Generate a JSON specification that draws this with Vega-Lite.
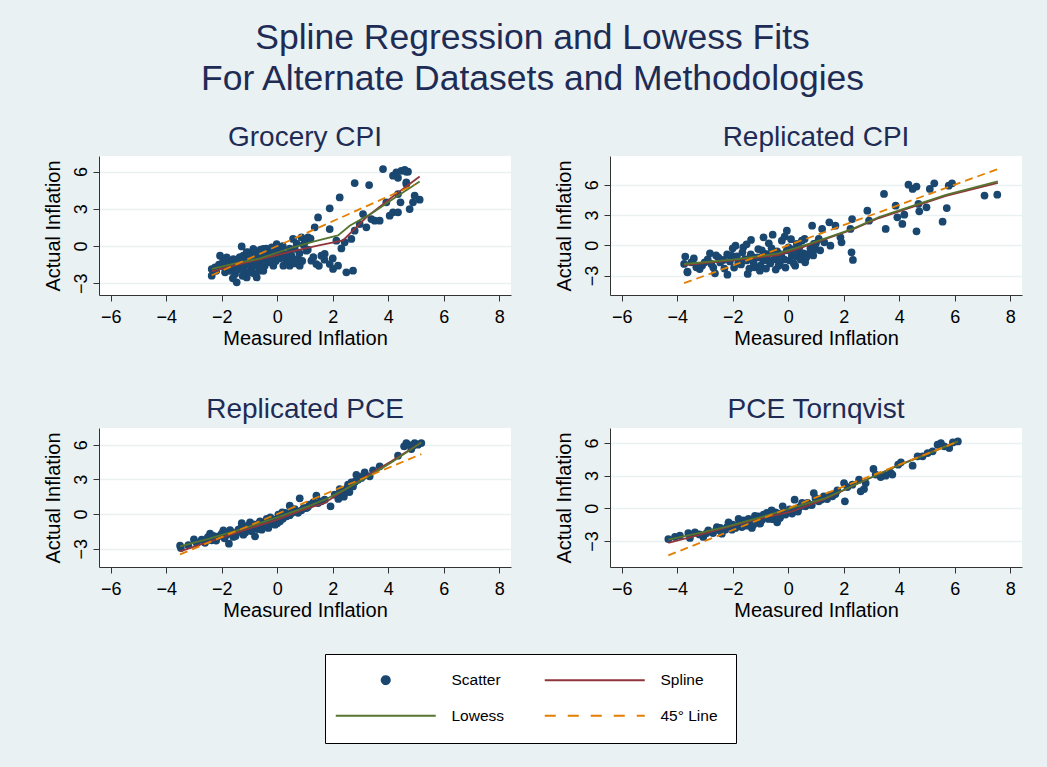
{
"$schema":"https://vega.github.io/schema/vega-lite/v6.json",
"background":"#eaf1f3",
"padding":{"left":42,"top":21,"right":25,"bottom":24},
"title":{"text":["Spline Regression and Lowess Fits","For Alternate Datasets and Methodologies"],"fontSize":35.5,"lineHeight":40.5,"color":"#1e2c55","font":"Liberation Sans","fontWeight":"normal","anchor":"middle","offset":27},
"data":{"values":[
{"p":"a","s":"Scatter","x":-2.36,"y":-1.86},{"p":"a","s":"Scatter","x":-2.36,"y":-2.39},{"p":"a","s":"Scatter","x":-2.24,"y":-1.72},{"p":"a","s":"Scatter","x":-2.06,"y":-0.78},{"p":"a","s":"Scatter","x":-2.0,"y":-1.59},{"p":"a","s":"Scatter","x":-1.82,"y":-0.91},{"p":"a","s":"Scatter","x":-1.88,"y":-2.12},{"p":"a","s":"Scatter","x":-1.7,"y":-1.32},{"p":"a","s":"Scatter","x":-1.64,"y":-1.85},{"p":"a","s":"Scatter","x":-1.58,"y":-1.05},{"p":"a","s":"Scatter","x":-1.52,"y":-2.26},{"p":"a","s":"Scatter","x":-1.46,"y":-2.93},{"p":"a","s":"Scatter","x":-1.34,"y":-1.59},{"p":"a","s":"Scatter","x":-1.28,"y":-0.03},{"p":"a","s":"Scatter","x":-1.22,"y":-0.78},{"p":"a","s":"Scatter","x":-1.16,"y":-2.12},{"p":"a","s":"Scatter","x":-1.1,"y":-2.53},{"p":"a","s":"Scatter","x":-1.04,"y":-0.51},{"p":"a","s":"Scatter","x":-0.98,"y":-1.32},{"p":"a","s":"Scatter","x":-0.92,"y":-1.85},{"p":"a","s":"Scatter","x":-0.86,"y":-0.24},{"p":"a","s":"Scatter","x":-0.8,"y":-1.05},{"p":"a","s":"Scatter","x":-0.74,"y":-2.53},{"p":"a","s":"Scatter","x":-0.68,"y":-1.59},{"p":"a","s":"Scatter","x":-0.62,"y":-0.78},{"p":"a","s":"Scatter","x":-0.56,"y":-1.85},{"p":"a","s":"Scatter","x":-0.5,"y":-0.24},{"p":"a","s":"Scatter","x":-0.44,"y":-1.32},{"p":"a","s":"Scatter","x":-0.32,"y":-0.51},{"p":"a","s":"Scatter","x":-0.2,"y":-1.05},{"p":"a","s":"Scatter","x":-0.14,"y":-1.59},{"p":"a","s":"Scatter","x":-0.02,"y":0.16},{"p":"a","s":"Scatter","x":0.04,"y":-0.78},{"p":"a","s":"Scatter","x":0.16,"y":-0.51},{"p":"a","s":"Scatter","x":0.22,"y":-1.59},{"p":"a","s":"Scatter","x":0.34,"y":-1.18},{"p":"a","s":"Scatter","x":0.45,"y":-1.59},{"p":"a","s":"Scatter","x":0.51,"y":-0.78},{"p":"a","s":"Scatter","x":0.57,"y":0.57},{"p":"a","s":"Scatter","x":0.63,"y":-0.24},{"p":"a","s":"Scatter","x":0.75,"y":-1.05},{"p":"a","s":"Scatter","x":0.81,"y":-1.59},{"p":"a","s":"Scatter","x":0.87,"y":0.7},{"p":"a","s":"Scatter","x":0.99,"y":0.3},{"p":"a","s":"Scatter","x":1.11,"y":0.7},{"p":"a","s":"Scatter","x":1.05,"y":-0.38},{"p":"a","s":"Scatter","x":1.23,"y":-1.18},{"p":"a","s":"Scatter","x":1.41,"y":-1.45},{"p":"a","s":"Scatter","x":1.59,"y":-0.78},{"p":"a","s":"Scatter","x":1.71,"y":-0.64},{"p":"a","s":"Scatter","x":1.89,"y":-1.45},{"p":"a","s":"Scatter","x":2.01,"y":-1.85},{"p":"a","s":"Scatter","x":2.19,"y":-1.59},{"p":"a","s":"Scatter","x":2.49,"y":-2.12},{"p":"a","s":"Scatter","x":2.73,"y":-1.99},{"p":"a","s":"Scatter","x":1.35,"y":1.51},{"p":"a","s":"Scatter","x":1.47,"y":2.31},{"p":"a","s":"Scatter","x":1.89,"y":3.04},{"p":"a","s":"Scatter","x":2.25,"y":3.92},{"p":"a","s":"Scatter","x":2.79,"y":5.08},{"p":"a","s":"Scatter","x":3.31,"y":4.92},{"p":"a","s":"Scatter","x":1.89,"y":1.37},{"p":"a","s":"Scatter","x":2.13,"y":0.43},{"p":"a","s":"Scatter","x":2.31,"y":-0.19},{"p":"a","s":"Scatter","x":2.43,"y":0.3},{"p":"a","s":"Scatter","x":2.67,"y":0.57},{"p":"a","s":"Scatter","x":2.79,"y":1.24},{"p":"a","s":"Scatter","x":2.97,"y":1.77},{"p":"a","s":"Scatter","x":3.09,"y":2.58},{"p":"a","s":"Scatter","x":3.21,"y":1.51},{"p":"a","s":"Scatter","x":3.39,"y":2.17},{"p":"a","s":"Scatter","x":3.51,"y":2.04},{"p":"a","s":"Scatter","x":3.69,"y":2.04},{"p":"a","s":"Scatter","x":3.93,"y":3.52},{"p":"a","s":"Scatter","x":4.05,"y":2.45},{"p":"a","s":"Scatter","x":4.17,"y":2.72},{"p":"a","s":"Scatter","x":4.35,"y":2.72},{"p":"a","s":"Scatter","x":4.44,"y":3.52},{"p":"a","s":"Scatter","x":4.65,"y":5.0},{"p":"a","s":"Scatter","x":4.77,"y":2.98},{"p":"a","s":"Scatter","x":4.89,"y":3.52},{"p":"a","s":"Scatter","x":5.13,"y":3.74},{"p":"a","s":"Scatter","x":4.95,"y":4.06},{"p":"a","s":"Scatter","x":3.81,"y":6.21},{"p":"a","s":"Scatter","x":4.17,"y":5.67},{"p":"a","s":"Scatter","x":4.29,"y":5.94},{"p":"a","s":"Scatter","x":4.47,"y":6.07},{"p":"a","s":"Scatter","x":4.65,"y":5.99},{"p":"a","s":"Scatter","x":4.59,"y":6.15},{"p":"a","s":"Scatter","x":4.35,"y":5.5},{"p":"a","s":"Scatter","x":4.65,"y":5.13},{"p":"a","s":"Scatter","x":4.35,"y":4.19},{"p":"a","s":"Scatter","x":4.71,"y":5.99},
{"p":"a","s":"Scatter","x":-2.2,"y":-2.0},{"p":"a","s":"Scatter","x":-2.1,"y":-1.5},{"p":"a","s":"Scatter","x":-1.95,"y":-1.2},{"p":"a","s":"Scatter","x":-1.9,"y":-1.7},{"p":"a","s":"Scatter","x":-1.75,"y":-1.45},{"p":"a","s":"Scatter","x":-1.7,"y":-2.0},{"p":"a","s":"Scatter","x":-1.6,"y":-1.2},{"p":"a","s":"Scatter","x":-1.55,"y":-1.6},{"p":"a","s":"Scatter","x":-1.45,"y":-1.1},{"p":"a","s":"Scatter","x":-1.4,"y":-1.9},{"p":"a","s":"Scatter","x":-1.35,"y":-0.9},{"p":"a","s":"Scatter","x":-1.3,"y":-1.35},{"p":"a","s":"Scatter","x":-1.2,"y":-1.7},{"p":"a","s":"Scatter","x":-1.15,"y":-1.0},{"p":"a","s":"Scatter","x":-1.1,"y":-0.5},{"p":"a","s":"Scatter","x":-1.05,"y":-1.5},{"p":"a","s":"Scatter","x":-1.0,"y":-2.1},{"p":"a","s":"Scatter","x":-0.95,"y":-0.8},{"p":"a","s":"Scatter","x":-0.9,"y":-1.2},{"p":"a","s":"Scatter","x":-0.85,"y":-1.6},{"p":"a","s":"Scatter","x":-0.8,"y":-0.4},{"p":"a","s":"Scatter","x":-0.75,"y":-0.9},{"p":"a","s":"Scatter","x":-0.7,"y":-1.4},{"p":"a","s":"Scatter","x":-0.65,"y":-2.0},{"p":"a","s":"Scatter","x":-0.6,"y":-0.3},{"p":"a","s":"Scatter","x":-0.55,"y":-1.1},{"p":"a","s":"Scatter","x":-0.5,"y":-0.7},{"p":"a","s":"Scatter","x":-0.45,"y":-1.6},{"p":"a","s":"Scatter","x":-0.4,"y":-0.2},{"p":"a","s":"Scatter","x":-0.35,"y":-0.9},{"p":"a","s":"Scatter","x":-0.3,"y":-1.3},{"p":"a","s":"Scatter","x":-0.25,"y":-0.5},{"p":"a","s":"Scatter","x":-0.2,"y":-0.1},{"p":"a","s":"Scatter","x":-0.1,"y":-0.6},{"p":"a","s":"Scatter","x":-0.05,"y":-1.2},{"p":"a","s":"Scatter","x":0.05,"y":-0.3},{"p":"a","s":"Scatter","x":0.1,"y":-1.0},{"p":"a","s":"Scatter","x":0.2,"y":0.0},{"p":"a","s":"Scatter","x":0.3,"y":-0.7},{"p":"a","s":"Scatter","x":0.4,"y":-1.3},{"p":"a","s":"Scatter","x":0.45,"y":-0.2},{"p":"a","s":"Scatter","x":0.55,"y":-1.0},{"p":"a","s":"Scatter","x":0.65,"y":-1.4},{"p":"a","s":"Scatter","x":0.7,"y":0.2},{"p":"a","s":"Scatter","x":0.8,"y":-0.6},{"p":"a","s":"Scatter","x":0.9,"y":-1.2},{"p":"a","s":"Scatter","x":0.95,"y":0.1},{"p":"a","s":"Scatter","x":1.1,"y":-0.3},{"p":"a","s":"Scatter","x":1.2,"y":0.6},{"p":"a","s":"Scatter","x":1.3,"y":-0.9},{"p":"a","s":"Scatter","x":1.5,"y":-1.6},{"p":"a","s":"Scatter","x":1.7,"y":-1.1},{"p":"a","s":"Scatter","x":2.0,"y":-1.0},{"p":"a","s":"Scatter","x":-1.25,"y":-2.4},{"p":"a","s":"Scatter","x":-0.85,"y":-2.2},{"p":"a","s":"Scatter","x":-0.5,"y":-2.0},{"p":"a","s":"Scatter","x":-1.6,"y":-2.6},
{"p":"a","s":"Spline","x":-2.36,"y":-2.05},{"p":"a","s":"Spline","x":-1.5,"y":-1.55},{"p":"a","s":"Spline","x":-0.6,"y":-1.05},{"p":"a","s":"Spline","x":0.6,"y":-0.4},{"p":"a","s":"Spline","x":1.5,"y":0.05},{"p":"a","s":"Spline","x":2.37,"y":0.45},{"p":"a","s":"Spline","x":3.2,"y":2.3},{"p":"a","s":"Spline","x":4.2,"y":4.05},{"p":"a","s":"Spline","x":5.13,"y":5.6},
{"p":"a","s":"Lowess","x":-2.36,"y":-1.85},{"p":"a","s":"Lowess","x":-1.5,"y":-1.4},{"p":"a","s":"Lowess","x":-0.62,"y":-1.0},{"p":"a","s":"Lowess","x":0.58,"y":-0.1},{"p":"a","s":"Lowess","x":1.3,"y":0.35},{"p":"a","s":"Lowess","x":2.19,"y":0.85},{"p":"a","s":"Lowess","x":2.61,"y":1.64},{"p":"a","s":"Lowess","x":3.45,"y":2.7},{"p":"a","s":"Lowess","x":4.17,"y":3.79},{"p":"a","s":"Lowess","x":5.13,"y":5.2},
{"p":"a","s":"45° Line","x":-2.36,"y":-2.36},{"p":"a","s":"45° Line","x":4.95,"y":4.95},

{"p":"b","s":"Scatter","x":-3.71,"y":-1.12},{"p":"b","s":"Scatter","x":-3.75,"y":-1.85},{"p":"b","s":"Scatter","x":-3.63,"y":-2.61},{"p":"b","s":"Scatter","x":-3.49,"y":-1.69},{"p":"b","s":"Scatter","x":-3.31,"y":-2.18},{"p":"b","s":"Scatter","x":-3.19,"y":-2.35},{"p":"b","s":"Scatter","x":-3.01,"y":-1.69},{"p":"b","s":"Scatter","x":-2.82,"y":-0.79},{"p":"b","s":"Scatter","x":-2.77,"y":-1.85},{"p":"b","s":"Scatter","x":-2.64,"y":-2.77},{"p":"b","s":"Scatter","x":-2.52,"y":-1.19},{"p":"b","s":"Scatter","x":-2.34,"y":-1.45},{"p":"b","s":"Scatter","x":-2.19,"y":-2.91},{"p":"b","s":"Scatter","x":-2.04,"y":-1.03},{"p":"b","s":"Scatter","x":-1.9,"y":-0.04},{"p":"b","s":"Scatter","x":-1.8,"y":-1.69},{"p":"b","s":"Scatter","x":-1.62,"y":-0.2},{"p":"b","s":"Scatter","x":-1.56,"y":-1.36},{"p":"b","s":"Scatter","x":-1.46,"y":-2.84},{"p":"b","s":"Scatter","x":-1.34,"y":0.53},{"p":"b","s":"Scatter","x":-1.26,"y":-1.19},{"p":"b","s":"Scatter","x":-1.2,"y":-2.18},{"p":"b","s":"Scatter","x":-1.08,"y":-0.37},{"p":"b","s":"Scatter","x":-1.02,"y":-2.51},{"p":"b","s":"Scatter","x":-0.89,"y":0.79},{"p":"b","s":"Scatter","x":-0.83,"y":-0.86},{"p":"b","s":"Scatter","x":-0.71,"y":-1.52},{"p":"b","s":"Scatter","x":-0.56,"y":1.05},{"p":"b","s":"Scatter","x":-0.53,"y":-0.7},{"p":"b","s":"Scatter","x":-0.41,"y":-1.19},{"p":"b","s":"Scatter","x":-0.35,"y":-2.02},{"p":"b","s":"Scatter","x":-0.23,"y":0.46},{"p":"b","s":"Scatter","x":-0.13,"y":0.86},{"p":"b","s":"Scatter","x":-0.05,"y":1.45},{"p":"b","s":"Scatter","x":0.01,"y":-0.2},{"p":"b","s":"Scatter","x":0.13,"y":-1.03},{"p":"b","s":"Scatter","x":0.25,"y":-2.02},{"p":"b","s":"Scatter","x":0.31,"y":0.13},{"p":"b","s":"Scatter","x":0.37,"y":-0.6},{"p":"b","s":"Scatter","x":0.49,"y":0.46},{"p":"b","s":"Scatter","x":0.59,"y":0.63},{"p":"b","s":"Scatter","x":0.61,"y":-1.69},{"p":"b","s":"Scatter","x":0.74,"y":-0.86},{"p":"b","s":"Scatter","x":0.86,"y":1.94},{"p":"b","s":"Scatter","x":0.92,"y":0.13},{"p":"b","s":"Scatter","x":0.98,"y":-0.37},{"p":"b","s":"Scatter","x":1.1,"y":0.63},{"p":"b","s":"Scatter","x":1.22,"y":1.62},{"p":"b","s":"Scatter","x":1.48,"y":2.27},{"p":"b","s":"Scatter","x":1.52,"y":-0.04},{"p":"b","s":"Scatter","x":1.7,"y":1.94},{"p":"b","s":"Scatter","x":1.88,"y":0.79},{"p":"b","s":"Scatter","x":1.92,"y":0.3},{"p":"b","s":"Scatter","x":2.24,"y":1.62},{"p":"b","s":"Scatter","x":2.28,"y":-0.7},{"p":"b","s":"Scatter","x":2.33,"y":-1.45},{"p":"b","s":"Scatter","x":2.3,"y":2.6},{"p":"b","s":"Scatter","x":2.85,"y":3.43},{"p":"b","s":"Scatter","x":2.91,"y":2.44},{"p":"b","s":"Scatter","x":3.45,"y":5.08},{"p":"b","s":"Scatter","x":3.51,"y":1.62},{"p":"b","s":"Scatter","x":3.87,"y":3.92},{"p":"b","s":"Scatter","x":3.93,"y":2.77},{"p":"b","s":"Scatter","x":4.11,"y":2.11},{"p":"b","s":"Scatter","x":4.18,"y":3.03},{"p":"b","s":"Scatter","x":4.33,"y":6.0},{"p":"b","s":"Scatter","x":4.48,"y":5.58},{"p":"b","s":"Scatter","x":4.62,"y":5.81},{"p":"b","s":"Scatter","x":4.62,"y":1.38},{"p":"b","s":"Scatter","x":4.69,"y":4.09},{"p":"b","s":"Scatter","x":4.72,"y":3.36},{"p":"b","s":"Scatter","x":4.98,"y":3.76},{"p":"b","s":"Scatter","x":5.1,"y":5.58},{"p":"b","s":"Scatter","x":5.26,"y":6.14},{"p":"b","s":"Scatter","x":5.56,"y":2.34},{"p":"b","s":"Scatter","x":5.71,"y":3.69},{"p":"b","s":"Scatter","x":5.78,"y":5.9},{"p":"b","s":"Scatter","x":5.9,"y":6.14},{"p":"b","s":"Scatter","x":7.07,"y":4.92},{"p":"b","s":"Scatter","x":7.53,"y":5.01},
{"p":"b","s":"Scatter","x":-3.4,"y":-1.3},{"p":"b","s":"Scatter","x":-3.1,"y":-2.0},{"p":"b","s":"Scatter","x":-2.9,"y":-1.4},{"p":"b","s":"Scatter","x":-2.7,"y":-2.2},{"p":"b","s":"Scatter","x":-2.6,"y":-1.0},{"p":"b","s":"Scatter","x":-2.45,"y":-1.7},{"p":"b","s":"Scatter","x":-2.3,"y":-2.3},{"p":"b","s":"Scatter","x":-2.2,"y":-0.9},{"p":"b","s":"Scatter","x":-2.1,"y":-1.6},{"p":"b","s":"Scatter","x":-1.95,"y":-2.2},{"p":"b","s":"Scatter","x":-1.85,"y":-1.1},{"p":"b","s":"Scatter","x":-1.7,"y":-1.9},{"p":"b","s":"Scatter","x":-1.65,"y":-0.7},{"p":"b","s":"Scatter","x":-1.5,"y":-1.5},{"p":"b","s":"Scatter","x":-1.4,"y":-2.3},{"p":"b","s":"Scatter","x":-1.35,"y":-0.9},{"p":"b","s":"Scatter","x":-1.25,"y":-1.7},{"p":"b","s":"Scatter","x":-1.1,"y":-1.2},{"p":"b","s":"Scatter","x":-1.0,"y":-2.0},{"p":"b","s":"Scatter","x":-0.95,"y":-0.5},{"p":"b","s":"Scatter","x":-0.9,"y":-1.5},{"p":"b","s":"Scatter","x":-0.8,"y":-2.3},{"p":"b","s":"Scatter","x":-0.75,"y":-0.9},{"p":"b","s":"Scatter","x":-0.65,"y":-1.8},{"p":"b","s":"Scatter","x":-0.6,"y":-0.3},{"p":"b","s":"Scatter","x":-0.5,"y":-1.4},{"p":"b","s":"Scatter","x":-0.45,"y":-2.4},{"p":"b","s":"Scatter","x":-0.4,"y":-0.6},{"p":"b","s":"Scatter","x":-0.3,"y":-1.7},{"p":"b","s":"Scatter","x":-0.25,"y":-0.9},{"p":"b","s":"Scatter","x":-0.15,"y":-1.4},{"p":"b","s":"Scatter","x":-0.1,"y":-2.2},{"p":"b","s":"Scatter","x":-0.05,"y":-0.5},{"p":"b","s":"Scatter","x":0.05,"y":-1.5},{"p":"b","s":"Scatter","x":0.15,"y":-0.4},{"p":"b","s":"Scatter","x":0.2,"y":-1.8},{"p":"b","s":"Scatter","x":0.3,"y":-1.1},{"p":"b","s":"Scatter","x":0.4,"y":-0.2},{"p":"b","s":"Scatter","x":0.45,"y":-1.4},{"p":"b","s":"Scatter","x":0.55,"y":-0.8},{"p":"b","s":"Scatter","x":0.65,"y":-1.2},{"p":"b","s":"Scatter","x":0.8,"y":-0.3},{"p":"b","s":"Scatter","x":0.9,"y":-1.0},{"p":"b","s":"Scatter","x":1.0,"y":0.2},{"p":"b","s":"Scatter","x":1.15,"y":-0.5},{"p":"b","s":"Scatter","x":1.3,"y":0.3},{"p":"b","s":"Scatter","x":-2.0,"y":-0.3},{"p":"b","s":"Scatter","x":-1.5,"y":0.1},{"p":"b","s":"Scatter","x":-0.7,"y":0.2},{"p":"b","s":"Scatter","x":0.1,"y":0.6},{"p":"b","s":"Scatter","x":-3.63,"y":-2.67},
{"p":"b","s":"Spline","x":-3.75,"y":-1.95},{"p":"b","s":"Spline","x":-2.0,"y":-1.5},{"p":"b","s":"Spline","x":-0.35,"y":-0.96},{"p":"b","s":"Spline","x":0.4,"y":-0.3},{"p":"b","s":"Spline","x":1.1,"y":0.38},{"p":"b","s":"Spline","x":2.3,"y":1.55},{"p":"b","s":"Spline","x":3.27,"y":2.7},{"p":"b","s":"Spline","x":4.48,"y":3.8},{"p":"b","s":"Spline","x":5.68,"y":4.9},{"p":"b","s":"Spline","x":7.55,"y":6.18},
{"p":"b","s":"Lowess","x":-3.75,"y":-1.85},{"p":"b","s":"Lowess","x":-2.0,"y":-1.42},{"p":"b","s":"Lowess","x":-0.95,"y":-1.05},{"p":"b","s":"Lowess","x":-0.35,"y":-0.8},{"p":"b","s":"Lowess","x":0.4,"y":-0.15},{"p":"b","s":"Lowess","x":1.1,"y":0.46},{"p":"b","s":"Lowess","x":2.3,"y":1.6},{"p":"b","s":"Lowess","x":3.27,"y":2.8},{"p":"b","s":"Lowess","x":4.48,"y":3.9},{"p":"b","s":"Lowess","x":5.68,"y":5.0},{"p":"b","s":"Lowess","x":7.55,"y":6.33},
{"p":"b","s":"45° Line","x":-3.75,"y":-3.75},{"p":"b","s":"45° Line","x":7.53,"y":7.53},

{"p":"c","s":"Scatter","x":-3.5,"y":-2.74},{"p":"c","s":"Scatter","x":-3.47,"y":-2.94},{"p":"c","s":"Scatter","x":-2.9,"y":-2.51},{"p":"c","s":"Scatter","x":-2.72,"y":-2.22},{"p":"c","s":"Scatter","x":-2.42,"y":-1.7},{"p":"c","s":"Scatter","x":-2.36,"y":-2.28},{"p":"c","s":"Scatter","x":-2.12,"y":-1.93},{"p":"c","s":"Scatter","x":-1.94,"y":-1.41},{"p":"c","s":"Scatter","x":-1.82,"y":-1.79},{"p":"c","s":"Scatter","x":-1.74,"y":-2.57},{"p":"c","s":"Scatter","x":-1.64,"y":-1.59},{"p":"c","s":"Scatter","x":-1.58,"y":-1.99},{"p":"c","s":"Scatter","x":-1.4,"y":-1.36},{"p":"c","s":"Scatter","x":-1.28,"y":-0.78},{"p":"c","s":"Scatter","x":-1.22,"y":-1.79},{"p":"c","s":"Scatter","x":-1.1,"y":-1.21},{"p":"c","s":"Scatter","x":-0.98,"y":-0.72},{"p":"c","s":"Scatter","x":-0.92,"y":-1.5},{"p":"c","s":"Scatter","x":-0.8,"y":-1.93},{"p":"c","s":"Scatter","x":-0.74,"y":-1.07},{"p":"c","s":"Scatter","x":-0.62,"y":-0.63},{"p":"c","s":"Scatter","x":-0.56,"y":-1.36},{"p":"c","s":"Scatter","x":-0.47,"y":-0.92},{"p":"c","s":"Scatter","x":-0.38,"y":-0.43},{"p":"c","s":"Scatter","x":-0.32,"y":-1.21},{"p":"c","s":"Scatter","x":-0.2,"y":-0.55},{"p":"c","s":"Scatter","x":-0.08,"y":-0.92},{"p":"c","s":"Scatter","x":0.04,"y":-0.06},{"p":"c","s":"Scatter","x":0.1,"y":-0.63},{"p":"c","s":"Scatter","x":0.18,"y":0.14},{"p":"c","s":"Scatter","x":0.34,"y":-0.2},{"p":"c","s":"Scatter","x":0.45,"y":0.72},{"p":"c","s":"Scatter","x":0.52,"y":0.09},{"p":"c","s":"Scatter","x":0.63,"y":0.43},{"p":"c","s":"Scatter","x":0.81,"y":1.36},{"p":"c","s":"Scatter","x":0.87,"y":0.32},{"p":"c","s":"Scatter","x":1.05,"y":0.52},{"p":"c","s":"Scatter","x":1.17,"y":0.81},{"p":"c","s":"Scatter","x":1.41,"y":1.59},{"p":"c","s":"Scatter","x":1.47,"y":0.95},{"p":"c","s":"Scatter","x":1.59,"y":1.1},{"p":"c","s":"Scatter","x":1.71,"y":1.24},{"p":"c","s":"Scatter","x":1.92,"y":0.66},{"p":"c","s":"Scatter","x":2.07,"y":1.67},{"p":"c","s":"Scatter","x":2.25,"y":2.16},{"p":"c","s":"Scatter","x":2.31,"y":1.53},{"p":"c","s":"Scatter","x":2.43,"y":1.82},{"p":"c","s":"Scatter","x":2.55,"y":2.54},{"p":"c","s":"Scatter","x":2.67,"y":2.74},{"p":"c","s":"Scatter","x":2.73,"y":2.39},{"p":"c","s":"Scatter","x":2.85,"y":3.4},{"p":"c","s":"Scatter","x":2.91,"y":2.97},{"p":"c","s":"Scatter","x":3.03,"y":3.12},{"p":"c","s":"Scatter","x":3.15,"y":3.61},{"p":"c","s":"Scatter","x":3.33,"y":3.26},{"p":"c","s":"Scatter","x":3.45,"y":3.78},{"p":"c","s":"Scatter","x":3.69,"y":4.13},{"p":"c","s":"Scatter","x":4.35,"y":5.05},{"p":"c","s":"Scatter","x":4.57,"y":5.86},{"p":"c","s":"Scatter","x":4.71,"y":6.0},{"p":"c","s":"Scatter","x":4.83,"y":5.63},{"p":"c","s":"Scatter","x":4.95,"y":6.15},{"p":"c","s":"Scatter","x":5.07,"y":6.0},{"p":"c","s":"Scatter","x":5.19,"y":6.15},{"p":"c","s":"Scatter","x":4.65,"y":6.15},{"p":"c","s":"Scatter","x":4.89,"y":5.92},
{"p":"c","s":"Scatter","x":-3.2,"y":-2.7},{"p":"c","s":"Scatter","x":-3.0,"y":-2.2},{"p":"c","s":"Scatter","x":-2.6,"y":-2.5},{"p":"c","s":"Scatter","x":-2.5,"y":-2.0},{"p":"c","s":"Scatter","x":-2.3,"y":-1.9},{"p":"c","s":"Scatter","x":-2.2,"y":-2.3},{"p":"c","s":"Scatter","x":-2.0,"y":-1.7},{"p":"c","s":"Scatter","x":-1.9,"y":-2.1},{"p":"c","s":"Scatter","x":-1.7,"y":-1.4},{"p":"c","s":"Scatter","x":-1.5,"y":-1.9},{"p":"c","s":"Scatter","x":-1.45,"y":-1.6},{"p":"c","s":"Scatter","x":-1.3,"y":-1.2},{"p":"c","s":"Scatter","x":-1.15,"y":-1.6},{"p":"c","s":"Scatter","x":-1.05,"y":-1.0},{"p":"c","s":"Scatter","x":-0.95,"y":-1.3},{"p":"c","s":"Scatter","x":-0.85,"y":-0.9},{"p":"c","s":"Scatter","x":-0.7,"y":-1.3},{"p":"c","s":"Scatter","x":-0.65,"y":-0.8},{"p":"c","s":"Scatter","x":-0.5,"y":-1.1},{"p":"c","s":"Scatter","x":-0.4,"y":-0.7},{"p":"c","s":"Scatter","x":-0.3,"y":-0.9},{"p":"c","s":"Scatter","x":-0.25,"y":-0.3},{"p":"c","s":"Scatter","x":-0.1,"y":-0.5},{"p":"c","s":"Scatter","x":0.0,"y":-0.8},{"p":"c","s":"Scatter","x":0.05,"y":-0.3},{"p":"c","s":"Scatter","x":0.2,"y":-0.4},{"p":"c","s":"Scatter","x":0.3,"y":0.1},{"p":"c","s":"Scatter","x":0.45,"y":-0.1},{"p":"c","s":"Scatter","x":0.6,"y":0.3},{"p":"c","s":"Scatter","x":0.75,"y":0.1},{"p":"c","s":"Scatter","x":0.95,"y":0.5},{"p":"c","s":"Scatter","x":1.1,"y":0.6},{"p":"c","s":"Scatter","x":1.3,"y":1.0},{"p":"c","s":"Scatter","x":2.5,"y":2.2},{"p":"c","s":"Scatter","x":2.6,"y":1.9},{"p":"c","s":"Scatter","x":2.8,"y":2.8},{"p":"c","s":"Scatter","x":3.1,"y":3.3},{"p":"c","s":"Scatter","x":2.2,"y":1.3},{"p":"c","s":"Scatter","x":2.4,"y":1.5},
{"p":"c","s":"Spline","x":-3.5,"y":-3.23},{"p":"c","s":"Spline","x":-1.88,"y":-1.93},{"p":"c","s":"Spline","x":-0.08,"y":-0.55},{"p":"c","s":"Spline","x":0.87,"y":0.32},{"p":"c","s":"Spline","x":1.71,"y":0.95},{"p":"c","s":"Spline","x":2.43,"y":2.11},{"p":"c","s":"Spline","x":3.39,"y":3.55},{"p":"c","s":"Spline","x":4.11,"y":4.56},{"p":"c","s":"Spline","x":5.19,"y":6.2},
{"p":"c","s":"Lowess","x":-3.5,"y":-2.8},{"p":"c","s":"Lowess","x":-2.48,"y":-2.16},{"p":"c","s":"Lowess","x":-1.28,"y":-1.3},{"p":"c","s":"Lowess","x":-0.08,"y":-0.35},{"p":"c","s":"Lowess","x":1.11,"y":0.66},{"p":"c","s":"Lowess","x":1.71,"y":1.24},{"p":"c","s":"Lowess","x":2.43,"y":2.11},{"p":"c","s":"Lowess","x":3.39,"y":3.41},{"p":"c","s":"Lowess","x":4.11,"y":4.47},{"p":"c","s":"Lowess","x":5.19,"y":6.2},
{"p":"c","s":"45° Line","x":-3.5,"y":-3.5},{"p":"c","s":"45° Line","x":5.19,"y":5.19},

{"p":"d","s":"Scatter","x":-4.32,"y":-2.82},{"p":"d","s":"Scatter","x":-4.08,"y":-2.63},{"p":"d","s":"Scatter","x":-3.6,"y":-2.27},{"p":"d","s":"Scatter","x":-3.54,"y":-2.72},{"p":"d","s":"Scatter","x":-3.36,"y":-2.21},{"p":"d","s":"Scatter","x":-3.06,"y":-2.63},{"p":"d","s":"Scatter","x":-2.88,"y":-2.02},{"p":"d","s":"Scatter","x":-2.71,"y":-2.27},{"p":"d","s":"Scatter","x":-2.57,"y":-1.72},{"p":"d","s":"Scatter","x":-2.39,"y":-2.33},{"p":"d","s":"Scatter","x":-2.27,"y":-1.96},{"p":"d","s":"Scatter","x":-2.15,"y":-1.29},{"p":"d","s":"Scatter","x":-2.03,"y":-1.96},{"p":"d","s":"Scatter","x":-1.79,"y":-0.98},{"p":"d","s":"Scatter","x":-1.67,"y":-1.72},{"p":"d","s":"Scatter","x":-1.55,"y":-1.35},{"p":"d","s":"Scatter","x":-1.43,"y":-0.98},{"p":"d","s":"Scatter","x":-1.31,"y":-1.81},{"p":"d","s":"Scatter","x":-1.19,"y":-1.1},{"p":"d","s":"Scatter","x":-1.07,"y":-0.74},{"p":"d","s":"Scatter","x":-1.01,"y":-1.41},{"p":"d","s":"Scatter","x":-0.89,"y":-0.58},{"p":"d","s":"Scatter","x":-0.77,"y":-0.43},{"p":"d","s":"Scatter","x":-0.71,"y":-0.98},{"p":"d","s":"Scatter","x":-0.59,"y":-0.8},{"p":"d","s":"Scatter","x":-0.46,"y":-0.37},{"p":"d","s":"Scatter","x":-0.4,"y":-1.29},{"p":"d","s":"Scatter","x":-0.28,"y":-0.74},{"p":"d","s":"Scatter","x":-0.2,"y":0.18},{"p":"d","s":"Scatter","x":-0.1,"y":-0.58},{"p":"d","s":"Scatter","x":0.02,"y":-0.28},{"p":"d","s":"Scatter","x":0.14,"y":-0.49},{"p":"d","s":"Scatter","x":0.23,"y":0.79},{"p":"d","s":"Scatter","x":0.26,"y":-0.13},{"p":"d","s":"Scatter","x":0.38,"y":0.03},{"p":"d","s":"Scatter","x":0.5,"y":0.49},{"p":"d","s":"Scatter","x":0.62,"y":0.18},{"p":"d","s":"Scatter","x":0.74,"y":0.33},{"p":"d","s":"Scatter","x":0.92,"y":1.4},{"p":"d","s":"Scatter","x":0.98,"y":0.95},{"p":"d","s":"Scatter","x":1.1,"y":0.64},{"p":"d","s":"Scatter","x":1.28,"y":1.1},{"p":"d","s":"Scatter","x":1.4,"y":0.85},{"p":"d","s":"Scatter","x":1.59,"y":1.1},{"p":"d","s":"Scatter","x":1.77,"y":1.65},{"p":"d","s":"Scatter","x":2.01,"y":2.32},{"p":"d","s":"Scatter","x":2.04,"y":0.64},{"p":"d","s":"Scatter","x":2.13,"y":1.95},{"p":"d","s":"Scatter","x":2.31,"y":2.17},{"p":"d","s":"Scatter","x":2.55,"y":2.63},{"p":"d","s":"Scatter","x":2.61,"y":1.56},{"p":"d","s":"Scatter","x":2.73,"y":1.77},{"p":"d","s":"Scatter","x":2.79,"y":2.32},{"p":"d","s":"Scatter","x":3.07,"y":3.61},{"p":"d","s":"Scatter","x":3.15,"y":3.09},{"p":"d","s":"Scatter","x":3.33,"y":2.87},{"p":"d","s":"Scatter","x":3.51,"y":2.99},{"p":"d","s":"Scatter","x":3.69,"y":3.24},{"p":"d","s":"Scatter","x":3.75,"y":3.09},{"p":"d","s":"Scatter","x":3.96,"y":4.0},{"p":"d","s":"Scatter","x":4.06,"y":4.22},{"p":"d","s":"Scatter","x":4.48,"y":3.91},{"p":"d","s":"Scatter","x":4.66,"y":4.77},{"p":"d","s":"Scatter","x":4.84,"y":4.77},{"p":"d","s":"Scatter","x":5.02,"y":5.07},{"p":"d","s":"Scatter","x":5.2,"y":5.23},{"p":"d","s":"Scatter","x":5.38,"y":5.84},{"p":"d","s":"Scatter","x":5.5,"y":5.99},{"p":"d","s":"Scatter","x":5.62,"y":5.69},{"p":"d","s":"Scatter","x":5.8,"y":5.53},{"p":"d","s":"Scatter","x":5.93,"y":6.05},{"p":"d","s":"Scatter","x":6.11,"y":6.14},
{"p":"d","s":"Scatter","x":-3.9,"y":-2.5},{"p":"d","s":"Scatter","x":-3.2,"y":-2.4},{"p":"d","s":"Scatter","x":-2.95,"y":-2.3},{"p":"d","s":"Scatter","x":-2.6,"y":-2.0},{"p":"d","s":"Scatter","x":-2.45,"y":-1.8},{"p":"d","s":"Scatter","x":-2.2,"y":-1.7},{"p":"d","s":"Scatter","x":-2.0,"y":-1.5},{"p":"d","s":"Scatter","x":-1.9,"y":-1.8},{"p":"d","s":"Scatter","x":-1.75,"y":-1.4},{"p":"d","s":"Scatter","x":-1.6,"y":-1.1},{"p":"d","s":"Scatter","x":-1.5,"y":-1.6},{"p":"d","s":"Scatter","x":-1.35,"y":-1.2},{"p":"d","s":"Scatter","x":-1.25,"y":-1.5},{"p":"d","s":"Scatter","x":-1.1,"y":-0.9},{"p":"d","s":"Scatter","x":-0.95,"y":-1.1},{"p":"d","s":"Scatter","x":-0.85,"y":-0.8},{"p":"d","s":"Scatter","x":-0.65,"y":-0.6},{"p":"d","s":"Scatter","x":-0.55,"y":-1.0},{"p":"d","s":"Scatter","x":-0.35,"y":-0.5},{"p":"d","s":"Scatter","x":-0.3,"y":-0.9},{"p":"d","s":"Scatter","x":-0.15,"y":-0.3},{"p":"d","s":"Scatter","x":0.05,"y":-0.1},{"p":"d","s":"Scatter","x":0.35,"y":-0.3},{"p":"d","s":"Scatter","x":0.45,"y":0.2},{"p":"d","s":"Scatter","x":0.7,"y":0.5},{"p":"d","s":"Scatter","x":0.85,"y":0.3},{"p":"d","s":"Scatter","x":1.2,"y":0.8},{"p":"d","s":"Scatter","x":1.5,"y":1.2},{"p":"d","s":"Scatter","x":1.7,"y":1.3},{"p":"d","s":"Scatter","x":-0.6,"y":-0.2},{"p":"d","s":"Scatter","x":-1.2,"y":-0.7},
{"p":"d","s":"Spline","x":-4.32,"y":-3.18},{"p":"d","s":"Spline","x":-3.48,"y":-2.63},{"p":"d","s":"Spline","x":-2.27,"y":-1.81},{"p":"d","s":"Spline","x":-1.07,"y":-0.98},{"p":"d","s":"Spline","x":0.14,"y":-0.28},{"p":"d","s":"Spline","x":1.34,"y":0.85},{"p":"d","s":"Spline","x":2.55,"y":2.32},{"p":"d","s":"Spline","x":3.75,"y":3.7},{"p":"d","s":"Spline","x":4.96,"y":5.0},{"p":"d","s":"Spline","x":6.11,"y":6.14},
{"p":"d","s":"Lowess","x":-4.32,"y":-2.88},{"p":"d","s":"Lowess","x":-3.48,"y":-2.42},{"p":"d","s":"Lowess","x":-2.27,"y":-1.72},{"p":"d","s":"Lowess","x":-1.07,"y":-0.89},{"p":"d","s":"Lowess","x":0.14,"y":0.03},{"p":"d","s":"Lowess","x":1.34,"y":0.94},{"p":"d","s":"Lowess","x":2.55,"y":2.32},{"p":"d","s":"Lowess","x":3.75,"y":3.7},{"p":"d","s":"Lowess","x":4.96,"y":4.92},{"p":"d","s":"Lowess","x":6.11,"y":6.14},
{"p":"d","s":"45° Line","x":-4.32,"y":-4.32},{"p":"d","s":"45° Line","x":6.11,"y":6.11}
]},
"columns":2,
"spacing":{"column":42,"row":48},
"resolve":{"scale":{"x":"independent","y":"independent"}},
"concat":[
{"title":"Grocery CPI","width":412,"height":139,"transform":[{"filter":"datum.p==='a'"}],
"encoding":{
"x":{"field":"x","type":"quantitative","scale":{"domain":[-6.42,8.42],"nice":false,"zero":false},"axis":{"title":"Measured Inflation","values":[-6,-4,-2,0,2,4,6,8]}},
"y":{"field":"y","type":"quantitative","scale":{"domain":[-3.95,7.26],"nice":false,"zero":false},"axis":{"title":"Actual Inflation","values":[-3,0,3,6]}},
"color":{"field":"s","type":"nominal","scale":{"domain":["Scatter","Spline","Lowess","45° Line"],"range":["#1a476f","#90353b","#55752f","#e37e00"]},"legend":{"title":null,"direction":"horizontal","encode":{"symbols":{"update":{"shape":{"signal":"datum.value === 'Scatter' ? 'M-3,0M17,0M6.2,0A0.8,0.8 0 1,0 7.8,0A0.8,0.8 0 1,0 6.2,0Z' : 'M-3,0H17'"},"size":{"value":100},"fill":{"signal":"datum.value === 'Scatter' ? '#1a476f' : 'transparent'"},"stroke":{"signal":"datum.value === 'Scatter' ? '#1a476f' : datum.value === 'Spline' ? '#90353b' : datum.value === 'Lowess' ? '#55752f' : '#e37e00'"},"strokeWidth":{"value":2},"strokeDash":{"signal":"datum.value === '45° Line' ? [11,12] : [1,0]"},"opacity":{"value":1}}}}}}
},
"layer":[
{"transform":[{"filter":"datum.s==='Scatter'"}],"mark":{"type":"point","filled":true,"size":60,"opacity":1}},
{"transform":[{"filter":"datum.s==='Spline'"}],"mark":{"type":"line","strokeWidth":1.8}},
{"transform":[{"filter":"datum.s==='Lowess'"}],"mark":{"type":"line","strokeWidth":1.8}},
{"transform":[{"filter":"datum.s==='45° Line'"}],"mark":{"type":"line","strokeWidth":1.8,"strokeDash":[8,5]}}
]},
{"title":"Replicated CPI","width":412,"height":139,"transform":[{"filter":"datum.p==='b'"}],
"encoding":{
"x":{"field":"x","type":"quantitative","scale":{"domain":[-6.42,8.42],"nice":false,"zero":false},"axis":{"title":"Measured Inflation","values":[-6,-4,-2,0,2,4,6,8]}},
"y":{"field":"y","type":"quantitative","scale":{"domain":[-4.92,8.84],"nice":false,"zero":false},"axis":{"title":"Actual Inflation","values":[-3,0,3,6]}},
"color":{"field":"s","type":"nominal","scale":{"domain":["Scatter","Spline","Lowess","45° Line"],"range":["#1a476f","#90353b","#55752f","#e37e00"]},"legend":{"title":null,"direction":"horizontal","encode":{"symbols":{"update":{"shape":{"signal":"datum.value === 'Scatter' ? 'M-3,0M17,0M6.2,0A0.8,0.8 0 1,0 7.8,0A0.8,0.8 0 1,0 6.2,0Z' : 'M-3,0H17'"},"size":{"value":100},"fill":{"signal":"datum.value === 'Scatter' ? '#1a476f' : 'transparent'"},"stroke":{"signal":"datum.value === 'Scatter' ? '#1a476f' : datum.value === 'Spline' ? '#90353b' : datum.value === 'Lowess' ? '#55752f' : '#e37e00'"},"strokeWidth":{"value":2},"strokeDash":{"signal":"datum.value === '45° Line' ? [11,12] : [1,0]"},"opacity":{"value":1}}}}}}
},
"layer":[
{"transform":[{"filter":"datum.s==='Scatter'"}],"mark":{"type":"point","filled":true,"size":60,"opacity":1}},
{"transform":[{"filter":"datum.s==='Spline'"}],"mark":{"type":"line","strokeWidth":1.8}},
{"transform":[{"filter":"datum.s==='Lowess'"}],"mark":{"type":"line","strokeWidth":1.8}},
{"transform":[{"filter":"datum.s==='45° Line'"}],"mark":{"type":"line","strokeWidth":1.8,"strokeDash":[8,5]}}
]},
{"title":"Replicated PCE","width":412,"height":139,"transform":[{"filter":"datum.p==='c'"}],
"encoding":{
"x":{"field":"x","type":"quantitative","scale":{"domain":[-6.42,8.42],"nice":false,"zero":false},"axis":{"title":"Measured Inflation","values":[-6,-4,-2,0,2,4,6,8]}},
"y":{"field":"y","type":"quantitative","scale":{"domain":[-4.59,7.45],"nice":false,"zero":false},"axis":{"title":"Actual Inflation","values":[-3,0,3,6]}},
"color":{"field":"s","type":"nominal","scale":{"domain":["Scatter","Spline","Lowess","45° Line"],"range":["#1a476f","#90353b","#55752f","#e37e00"]},"legend":{"title":null,"direction":"horizontal","encode":{"symbols":{"update":{"shape":{"signal":"datum.value === 'Scatter' ? 'M-3,0M17,0M6.2,0A0.8,0.8 0 1,0 7.8,0A0.8,0.8 0 1,0 6.2,0Z' : 'M-3,0H17'"},"size":{"value":100},"fill":{"signal":"datum.value === 'Scatter' ? '#1a476f' : 'transparent'"},"stroke":{"signal":"datum.value === 'Scatter' ? '#1a476f' : datum.value === 'Spline' ? '#90353b' : datum.value === 'Lowess' ? '#55752f' : '#e37e00'"},"strokeWidth":{"value":2},"strokeDash":{"signal":"datum.value === '45° Line' ? [11,12] : [1,0]"},"opacity":{"value":1}}}}}}
},
"layer":[
{"transform":[{"filter":"datum.s==='Scatter'"}],"mark":{"type":"point","filled":true,"size":60,"opacity":1}},
{"transform":[{"filter":"datum.s==='Spline'"}],"mark":{"type":"line","strokeWidth":1.8}},
{"transform":[{"filter":"datum.s==='Lowess'"}],"mark":{"type":"line","strokeWidth":1.8}},
{"transform":[{"filter":"datum.s==='45° Line'"}],"mark":{"type":"line","strokeWidth":1.8,"strokeDash":[8,5]}}
]},
{"title":"PCE Tornqvist","width":412,"height":139,"transform":[{"filter":"datum.p==='d'"}],
"encoding":{
"x":{"field":"x","type":"quantitative","scale":{"domain":[-6.42,8.42],"nice":false,"zero":false},"axis":{"title":"Measured Inflation","values":[-6,-4,-2,0,2,4,6,8]}},
"y":{"field":"y","type":"quantitative","scale":{"domain":[-5.39,7.37],"nice":false,"zero":false},"axis":{"title":"Actual Inflation","values":[-3,0,3,6]}},
"color":{"field":"s","type":"nominal","scale":{"domain":["Scatter","Spline","Lowess","45° Line"],"range":["#1a476f","#90353b","#55752f","#e37e00"]},"legend":{"title":null,"direction":"horizontal","encode":{"symbols":{"update":{"shape":{"signal":"datum.value === 'Scatter' ? 'M-3,0M17,0M6.2,0A0.8,0.8 0 1,0 7.8,0A0.8,0.8 0 1,0 6.2,0Z' : 'M-3,0H17'"},"size":{"value":100},"fill":{"signal":"datum.value === 'Scatter' ? '#1a476f' : 'transparent'"},"stroke":{"signal":"datum.value === 'Scatter' ? '#1a476f' : datum.value === 'Spline' ? '#90353b' : datum.value === 'Lowess' ? '#55752f' : '#e37e00'"},"strokeWidth":{"value":2},"strokeDash":{"signal":"datum.value === '45° Line' ? [11,12] : [1,0]"},"opacity":{"value":1}}}}}}
},
"layer":[
{"transform":[{"filter":"datum.s==='Scatter'"}],"mark":{"type":"point","filled":true,"size":60,"opacity":1}},
{"transform":[{"filter":"datum.s==='Spline'"}],"mark":{"type":"line","strokeWidth":1.8}},
{"transform":[{"filter":"datum.s==='Lowess'"}],"mark":{"type":"line","strokeWidth":1.8}},
{"transform":[{"filter":"datum.s==='45° Line'"}],"mark":{"type":"line","strokeWidth":1.8,"strokeDash":[8,5]}}
]}
],
"config":{
"font":"Liberation Sans",
"view":{"fill":"white","stroke":null},
"title":{"fontSize":28,"fontWeight":"normal","color":"#1e2c55","offset":4},
"axis":{"domainColor":"#333333","domainWidth":1,"tickColor":"#333333","tickSize":6,"tickWidth":1,"labelFontSize":18,"labelColor":"black","titleFontSize":20,"titleFontWeight":"normal","titleColor":"black","labelFlush":false},
"axisX":{"grid":false,"labelPadding":7,"titlePadding":2},
"axisY":{"grid":true,"gridColor":"#eaf1f3","gridWidth":1.5,"labelAngle":-90,"labelPadding":3,"titlePadding":9},
"legend":{"orient":"none","legendX":226,"legendY":498,"columns":2,"padding":18,"fillColor":"white","strokeColor":"black","labelFontSize":15.5,"labelColor":"black","labelOffset":93,"symbolSize":100,"rowPadding":19,"columnPadding":35}
}
}
